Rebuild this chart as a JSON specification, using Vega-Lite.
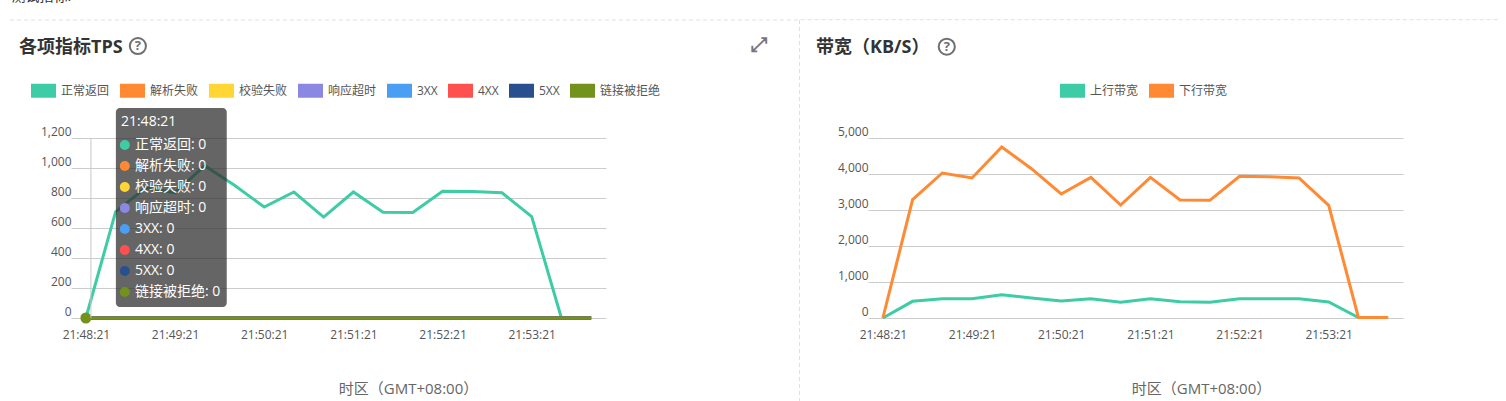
{
"$schema":"https://vega.github.io/schema/vega-lite/v6.json",
"padding":{"left":9,"top":-10,"right":0,"bottom":0},
"spacing":0,
"resolve":{"scale":{"color":"independent"},"legend":{"color":"independent"}},
"config":{"view":{"stroke":null},"font":"Open Sans, Noto Sans CJK SC","text":{"font":"Open Sans, Noto Sans CJK SC"},"concat":{"spacing":0}},
"datasets":{
"tps":[
{"time":"2020-01-01T21:48:21","正常返回":0,"解析失败":0,"校验失败":0,"响应超时":0,"3XX":0,"4XX":0,"5XX":0,"链接被拒绝":0},
{"time":"2020-01-01T21:48:41","正常返回":707,"解析失败":0,"校验失败":0,"响应超时":0,"3XX":0,"4XX":0,"5XX":0,"链接被拒绝":0},
{"time":"2020-01-01T21:49:01","正常返回":866,"解析失败":0,"校验失败":0,"响应超时":0,"3XX":0,"4XX":0,"5XX":0,"链接被拒绝":0},
{"time":"2020-01-01T21:49:21","正常返回":836,"解析失败":0,"校验失败":0,"响应超时":0,"3XX":0,"4XX":0,"5XX":0,"链接被拒绝":0},
{"time":"2020-01-01T21:49:41","正常返回":1015,"解析失败":0,"校验失败":0,"响应超时":0,"3XX":0,"4XX":0,"5XX":0,"链接被拒绝":0},
{"time":"2020-01-01T21:50:01","正常返回":885,"解析失败":0,"校验失败":0,"响应超时":0,"3XX":0,"4XX":0,"5XX":0,"链接被拒绝":0},
{"time":"2020-01-01T21:50:21","正常返回":740,"解析失败":0,"校验失败":0,"响应超时":0,"3XX":0,"4XX":0,"5XX":0,"链接被拒绝":0},
{"time":"2020-01-01T21:50:41","正常返回":840,"解析失败":0,"校验失败":0,"响应超时":0,"3XX":0,"4XX":0,"5XX":0,"链接被拒绝":0},
{"time":"2020-01-01T21:51:01","正常返回":673,"解析失败":0,"校验失败":0,"响应超时":0,"3XX":0,"4XX":0,"5XX":0,"链接被拒绝":0},
{"time":"2020-01-01T21:51:21","正常返回":840,"解析失败":0,"校验失败":0,"响应超时":0,"3XX":0,"4XX":0,"5XX":0,"链接被拒绝":0},
{"time":"2020-01-01T21:51:41","正常返回":705,"解析失败":0,"校验失败":0,"响应超时":0,"3XX":0,"4XX":0,"5XX":0,"链接被拒绝":0},
{"time":"2020-01-01T21:52:01","正常返回":703,"解析失败":0,"校验失败":0,"响应超时":0,"3XX":0,"4XX":0,"5XX":0,"链接被拒绝":0},
{"time":"2020-01-01T21:52:21","正常返回":845,"解析失败":0,"校验失败":0,"响应超时":0,"3XX":0,"4XX":0,"5XX":0,"链接被拒绝":0},
{"time":"2020-01-01T21:52:41","正常返回":843,"解析失败":0,"校验失败":0,"响应超时":0,"3XX":0,"4XX":0,"5XX":0,"链接被拒绝":0},
{"time":"2020-01-01T21:53:01","正常返回":835,"解析失败":0,"校验失败":0,"响应超时":0,"3XX":0,"4XX":0,"5XX":0,"链接被拒绝":0},
{"time":"2020-01-01T21:53:21","正常返回":676,"解析失败":0,"校验失败":0,"响应超时":0,"3XX":0,"4XX":0,"5XX":0,"链接被拒绝":0},
{"time":"2020-01-01T21:53:41","正常返回":0,"解析失败":0,"校验失败":0,"响应超时":0,"3XX":0,"4XX":0,"5XX":0,"链接被拒绝":0},
{"time":"2020-01-01T21:54:01","正常返回":0,"解析失败":0,"校验失败":0,"响应超时":0,"3XX":0,"4XX":0,"5XX":0,"链接被拒绝":0}
],
"bw":[
{"time":"2020-01-01T21:48:21","上行带宽":0,"下行带宽":0},
{"time":"2020-01-01T21:48:41","上行带宽":463,"下行带宽":3287},
{"time":"2020-01-01T21:49:01","上行带宽":537,"下行带宽":4028},
{"time":"2020-01-01T21:49:21","上行带宽":537,"下行带宽":3889},
{"time":"2020-01-01T21:49:41","上行带宽":648,"下行带宽":4750},
{"time":"2020-01-01T21:50:01","上行带宽":556,"下行带宽":4148},
{"time":"2020-01-01T21:50:21","上行带宽":472,"下行带宽":3444},
{"time":"2020-01-01T21:50:41","上行带宽":537,"下行带宽":3907},
{"time":"2020-01-01T21:51:01","上行带宽":435,"下行带宽":3139},
{"time":"2020-01-01T21:51:21","上行带宽":537,"下行带宽":3907},
{"time":"2020-01-01T21:51:41","上行带宽":454,"下行带宽":3278},
{"time":"2020-01-01T21:52:01","上行带宽":435,"下行带宽":3269},
{"time":"2020-01-01T21:52:21","上行带宽":537,"下行带宽":3935},
{"time":"2020-01-01T21:52:41","上行带宽":537,"下行带宽":3926},
{"time":"2020-01-01T21:53:01","上行带宽":537,"下行带宽":3889},
{"time":"2020-01-01T21:53:21","上行带宽":444,"下行带宽":3130},
{"time":"2020-01-01T21:53:41","上行带宽":15,"下行带宽":15},
{"time":"2020-01-01T21:54:01","上行带宽":15,"下行带宽":15}
],
"tip":[
{"row":"正常返回","series":"正常返回","label":"正常返回: 0"},
{"row":"解析失败","series":"解析失败","label":"解析失败: 0"},
{"row":"校验失败","series":"校验失败","label":"校验失败: 0"},
{"row":"响应超时","series":"响应超时","label":"响应超时: 0"},
{"row":"3XX","series":"3XX","label":"3XX: 0"},
{"row":"4XX","series":"4XX","label":"4XX: 0"},
{"row":"5XX","series":"5XX","label":"5XX: 0"},
{"row":"链接被拒绝","series":"链接被拒绝","label":"链接被拒绝: 0"}
]
},
"hconcat":[
{
"width":535,"height":180,
"data":{"values":[{"one":1}]},
"layer":[
{"layer":[
{"data":{"name":"tps"},
 "transform":[{"fold":["正常返回","解析失败","校验失败","响应超时","3XX","4XX","5XX","链接被拒绝"],"as":["series","value"]}],
 "mark":{"type":"line","strokeWidth":3,"clip":false},
 "encoding":{
  "x":{"field":"time","type":"temporal","scale":{"domain":["2020-01-01T21:48:11","2020-01-01T21:54:11"],"nice":false},
   "axis":{"values":["2020-01-01T21:48:21","2020-01-01T21:49:21","2020-01-01T21:50:21","2020-01-01T21:51:21","2020-01-01T21:52:21","2020-01-01T21:53:21"],"format":"%H:%M:%S","grid":false,"ticks":false,"domain":false,"labelFontSize":12,"labelColor":"#555555","labelPadding":11,"labelFlush":false,"labelOverlap":false,"title":"时区（GMT+08:00）","titleFontSize":15,"titleFontWeight":"normal","titleColor":"#666666","titleX":337,"titleY":70,"titleBaseline":"middle","titleAlign":"center"}},
  "y":{"field":"value","type":"quantitative","scale":{"domain":[0,1200],"nice":false},
   "axis":{"values":[0,200,400,600,800,1000,1200],"tickCount":7,"format":",.0f","grid":true,"gridColor":"#cccccc","gridWidth":1,"ticks":false,"domain":false,"labelBaseline":"bottom","labelOverlap":false,"labelFontSize":12,"labelColor":"#555555","labelPadding":0,"title":null}},
  "color":{"field":"series","type":"nominal","scale":{"domain":["正常返回","解析失败","校验失败","响应超时","3XX","4XX","5XX","链接被拒绝"],"range":["#3ecca6","#ff8a33","#ffd633","#8a88e3","#4b9ff2","#ff5050","#28508f","#73921c"]},
   "legend":{"orient":"none","legendX":-40,"legendY":-60,"direction":"horizontal","columns":8,"title":null,"symbolType":"M-1,-0.56H1V0.56H-1Z","symbolSize":625,"symbolStrokeWidth":0,"symbolOpacity":1,"labelFontSize":12,"labelColor":"#555555","labelOffset":5,"columnPadding":10,"encode":{"symbols":{"update":{"fill":{"scale":"concat_0_color","field":"value"}}}}}}
 }},
{"data":{"values":[{"time":"2020-01-01T21:48:21","series":"链接被拒绝","value":0}]},
 "mark":{"type":"point","filled":true,"size":121,"opacity":1},
 "encoding":{"x":{"field":"time","type":"temporal"},"y":{"field":"value","type":"quantitative"},"color":{"field":"series","type":"nominal"}}},
{"mark":{"type":"rule","color":"#c8c8c8","strokeWidth":1},
 "encoding":{"x":{"datum":{"year":2020,"month":1,"date":1,"hours":21,"minutes":48,"seconds":24,"milliseconds":400},"type":"temporal"},"y":{"datum":0,"type":"quantitative"},"y2":{"datum":1200}}},
{"mark":{"type":"rect","fill":"#323232","fillOpacity":0.75,"cornerRadius":4},
 "encoding":{"x":{"datum":{"year":2020,"month":1,"date":1,"hours":21,"minutes":48,"seconds":41,"milliseconds":200},"type":"temporal"},"x2":{"datum":{"year":2020,"month":1,"date":1,"hours":21,"minutes":49,"seconds":55,"milliseconds":800}},"y":{"datum":1400,"type":"quantitative"},"y2":{"datum":73}}},
{"mark":{"type":"rule","color":"#e0e0e0","strokeDash":[4,3],"strokeWidth":1},
 "encoding":{"x":{"datum":{"year":2020,"month":1,"date":1,"hours":21,"minutes":56,"seconds":21,"milliseconds":200},"type":"temporal"},"y":{"datum":1986.7,"type":"quantitative"},"y2":{"datum":-553}}},
{"mark":{"type":"rule","color":"#e0e0e0","strokeDash":[4,3],"strokeWidth":1},
 "encoding":{"x":{"datum":{"year":2020,"month":1,"date":1,"hours":21,"minutes":47,"seconds":29,"milliseconds":900},"type":"temporal"},"x2":{"datum":{"year":2020,"month":1,"date":1,"hours":21,"minutes":56,"seconds":21,"milliseconds":200}},"y":{"datum":1986.7,"type":"quantitative"}}},
{"mark":{"type":"text","align":"left","baseline":"alphabetic","fontSize":14,"color":"#333333"},
 "encoding":{"x":{"datum":{"year":2020,"month":1,"date":1,"hours":21,"minutes":47,"seconds":31},"type":"temporal"},"y":{"datum":2113,"type":"quantitative"},"text":{"value":"测试指标:"}}},
{"mark":{"type":"text","align":"left","baseline":"middle","fontSize":18,"fontWeight":"bold","color":"#333333"},
 "encoding":{"x":{"datum":{"year":2020,"month":1,"date":1,"hours":21,"minutes":47,"seconds":36},"type":"temporal"},"y":{"datum":1800,"type":"quantitative"},"text":{"value":"各项指标TPS"}}},
{"mark":{"type":"point","filled":false,"size":260,"color":"#6f6f6f","strokeWidth":2,"opacity":1},
 "encoding":{"x":{"datum":{"year":2020,"month":1,"date":1,"hours":21,"minutes":48,"seconds":56},"type":"temporal"},"y":{"datum":1813,"type":"quantitative"}}},
{"mark":{"type":"text","align":"center","baseline":"middle","fontSize":13,"fontWeight":"bold","color":"#6f6f6f"},
 "encoding":{"x":{"datum":{"year":2020,"month":1,"date":1,"hours":21,"minutes":48,"seconds":56},"type":"temporal"},"y":{"datum":1813,"type":"quantitative"},"text":{"value":"?"}}},
{"mark":{"type":"text","align":"center","baseline":"middle","fontSize":20,"fontWeight":"bold","color":"#777777","font":"DejaVu Sans"},
 "encoding":{"x":{"datum":{"year":2020,"month":1,"date":1,"hours":21,"minutes":55,"seconds":54},"type":"temporal"},"y":{"datum":1820,"type":"quantitative"},"text":{"value":"⤢"}}}
]},
{"layer":[
{"data":{"name":"tip"},"mark":{"type":"point","filled":true,"size":100,"opacity":1},
 "encoding":{"x":{"datum":{"year":2020,"month":1,"date":1,"hours":21,"minutes":48,"seconds":47,"milliseconds":200},"type":"temporal"},
  "y":{"field":"row","type":"nominal","scale":{"type":"point","domain":["21:48:21","正常返回","解析失败","校验失败","响应超时","3XX","4XX","5XX","链接被拒绝"],"range":[-14,154],"padding":0},"axis":null},
  "color":{"field":"series","type":"nominal"}}},
{"data":{"name":"tip"},"mark":{"type":"text","align":"left","baseline":"middle","fontSize":14,"color":"#ffffff"},
 "encoding":{"x":{"datum":{"year":2020,"month":1,"date":1,"hours":21,"minutes":48,"seconds":54},"type":"temporal"},"y":{"field":"row","type":"nominal"},"text":{"field":"label"}}},
{"data":{"values":[{"row":"21:48:21"}]},"mark":{"type":"text","align":"left","baseline":"middle","fontSize":14,"color":"#ffffff","dy":-2},
 "encoding":{"x":{"datum":{"year":2020,"month":1,"date":1,"hours":21,"minutes":48,"seconds":44,"milliseconds":600},"type":"temporal"},"y":{"field":"row","type":"nominal"},"text":{"field":"row"}}}
]}
],
"resolve":{"scale":{"y":"independent"},"axis":{"y":"independent"}}
},
{
"width":535,"height":180,
"data":{"values":[{"one":1}]},
"layer":[
{"data":{"name":"bw"},
 "transform":[{"fold":["上行带宽","下行带宽"],"as":["series","value"]}],
 "mark":{"type":"line","strokeWidth":3},
 "encoding":{
  "x":{"field":"time","type":"temporal","scale":{"domain":["2020-01-01T21:48:11","2020-01-01T21:54:11"],"nice":false},
   "axis":{"values":["2020-01-01T21:48:21","2020-01-01T21:49:21","2020-01-01T21:50:21","2020-01-01T21:51:21","2020-01-01T21:52:21","2020-01-01T21:53:21"],"format":"%H:%M:%S","grid":false,"ticks":false,"domain":false,"labelFontSize":12,"labelColor":"#555555","labelPadding":11,"labelFlush":false,"labelOverlap":false,"title":"时区（GMT+08:00）","titleFontSize":15,"titleFontWeight":"normal","titleColor":"#666666","titleX":333,"titleY":70,"titleBaseline":"middle","titleAlign":"center"}},
  "y":{"field":"value","type":"quantitative","scale":{"domain":[0,5000],"nice":false},
   "axis":{"values":[0,1000,2000,3000,4000,5000],"tickCount":6,"format":",.0f","grid":true,"gridColor":"#cccccc","gridWidth":1,"ticks":false,"domain":false,"labelBaseline":"bottom","labelOverlap":false,"labelFontSize":12,"labelColor":"#555555","labelPadding":0,"title":null}},
  "color":{"field":"series","type":"nominal","scale":{"domain":["上行带宽","下行带宽"],"range":["#3ecca6","#ff8a33"]},
   "legend":{"orient":"none","legendX":192,"legendY":-60,"direction":"horizontal","columns":2,"title":null,"symbolType":"M-1,-0.56H1V0.56H-1Z","symbolSize":625,"symbolStrokeWidth":0,"symbolOpacity":1,"labelFontSize":12,"labelColor":"#555555","labelOffset":5,"columnPadding":10,"encode":{"symbols":{"update":{"fill":{"scale":"concat_1_color","field":"value"}}}}}}
 }},
{"mark":{"type":"rule","color":"#e0e0e0","strokeDash":[4,3],"strokeWidth":1},
 "encoding":{"x":{"datum":{"year":2020,"month":1,"date":1,"hours":21,"minutes":47,"seconds":25,"milliseconds":700},"type":"temporal"},"x2":{"datum":{"year":2020,"month":1,"date":1,"hours":21,"minutes":55,"seconds":16}},"y":{"datum":8286,"type":"quantitative"}}},
{"mark":{"type":"text","align":"left","baseline":"middle","fontSize":18,"fontWeight":"bold","color":"#333333"},
 "encoding":{"x":{"datum":{"year":2020,"month":1,"date":1,"hours":21,"minutes":47,"seconds":36},"type":"temporal"},"y":{"datum":7495,"type":"quantitative"},"text":{"value":"带宽（KB/S）"}}},
{"mark":{"type":"point","filled":false,"size":260,"color":"#6f6f6f","strokeWidth":2,"opacity":1},
 "encoding":{"x":{"datum":{"year":2020,"month":1,"date":1,"hours":21,"minutes":49,"seconds":4},"type":"temporal"},"y":{"datum":7536,"type":"quantitative"}}},
{"mark":{"type":"text","align":"center","baseline":"middle","fontSize":13,"fontWeight":"bold","color":"#6f6f6f"},
 "encoding":{"x":{"datum":{"year":2020,"month":1,"date":1,"hours":21,"minutes":49,"seconds":4},"type":"temporal"},"y":{"datum":7536,"type":"quantitative"},"text":{"value":"?"}}}
]
}
]
}
